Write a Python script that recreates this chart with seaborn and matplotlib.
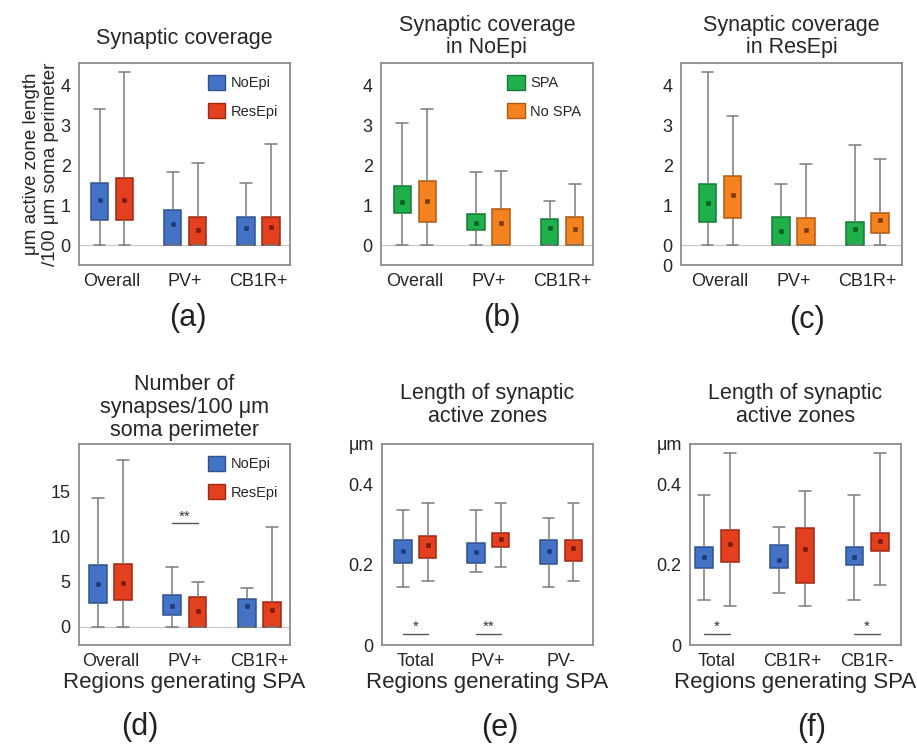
import pandas as pd
import matplotlib
matplotlib.use("Agg")
import matplotlib.pyplot as plt
from matplotlib.patches import Patch
import seaborn as sns

sns.set_style("white")
plt.rcParams['font.family'] = ['Liberation Sans', 'DejaVu Sans']

# each box: [min, Q1, mean, Q3, max]
cats_abc = ["Overall", "PV+", "CB1R+"]
cats_e = ["Total", "PV+", "PV-"]
cats_f = ["Total", "CB1R+", "CB1R-"]

a_noepi = [[0, 0.63, 1.12, 1.56, 3.40], [0, 0, 0.52, 0.875, 1.83], [0, 0, 0.42, 0.69, 1.54]]
a_resepi = [[0, 0.63, 1.12, 1.68, 4.33], [0, 0, 0.37, 0.69, 2.04], [0, 0, 0.46, 0.69, 2.52]]

b_spa = [[0, 0.79, 1.08, 1.475, 3.06], [0, 0.375, 0.54, 0.77, 1.82], [0, 0, 0.43, 0.65, 1.11]]
b_nospa = [[0, 0.58, 1.11, 1.61, 3.40], [0, 0, 0.54, 0.91, 1.84], [0, 0, 0.39, 0.70, 1.53]]

c_spa = [[0, 0.57, 1.04, 1.53, 4.33], [0, 0, 0.36, 0.69, 1.52], [0, 0, 0.39, 0.58, 2.51]]
c_nospa = [[0, 0.68, 1.25, 1.725, 3.23], [0, 0, 0.375, 0.67, 2.03], [0, 0.29, 0.625, 0.81, 2.16]]

d_noepi = [[0, 2.65, 4.75, 6.9, 14.26], [0, 1.36, 2.36, 3.58, 6.63], [0, 0, 2.29, 3.1, 4.31]]
d_resepi = [[0, 2.95, 4.83, 7.0, 18.5], [0, 0, 1.73, 3.28, 4.94], [0, 0, 1.92, 2.73, 11.13]]

e_noepi = [[0.145, 0.203, 0.235, 0.26, 0.337], [0.1825, 0.203, 0.2325, 0.254, 0.337],
           [0.145, 0.201, 0.234, 0.26, 0.317]]
e_resepi = [[0.158, 0.216, 0.249, 0.27, 0.353], [0.194, 0.244, 0.264, 0.279, 0.3525],
            [0.158, 0.21, 0.241, 0.26, 0.353]]

f_noepi = [[0.112, 0.192, 0.218, 0.245, 0.373], [0.13, 0.191, 0.2125, 0.249, 0.293],
           [0.112, 0.198, 0.22, 0.245, 0.373]]
f_resepi = [[0.097, 0.206, 0.252, 0.286, 0.477], [0.097, 0.155, 0.24, 0.292, 0.384],
            [0.149, 0.233, 0.258, 0.278, 0.477]]

# significance marks: (category index, y, stars)
sig_d = [(1, 11.5, "**")]
sig_e = [(0, 0.027, "*"), (1, 0.027, "**")]
sig_f = [(0, 0.027, "*"), (2, 0.027, "*")]

epi_colors = {"NoEpi": "#4472C4", "ResEpi": "#E2401E"}
epi_edges = {"NoEpi": "#2F528F", "ResEpi": "#A02810"}
epi_dark = {"NoEpi": "#1F3A7A", "ResEpi": "#7A1A08"}
spa_colors = {"SPA": "#1FAF4B", "No SPA": "#F58220"}
spa_edges = {"SPA": "#157A34", "No SPA": "#B05A10"}
spa_dark = {"SPA": "#0E5A25", "No SPA": "#7A3A08"}


def make_df(cats, groups, stats):
    rows, means = [], []
    for g, st in zip(groups, stats):
        for c, five in zip(cats, st):
            for v in five:
                rows.append((c, g, v))
            means.append((c, g, five[2]))
    cols = ["region", "group", "value"]
    return pd.DataFrame(rows, columns=cols), pd.DataFrame(means, columns=cols)


def panel(ax, cats, groups, stats, colors, edges, dark):
    df, dm = make_df(cats, groups, stats)
    sns.boxplot(data=df, x="region", y="value", hue="group", order=cats,
                hue_order=groups, palette=colors, saturation=1, width=0.68, gap=0.3,
                whis=(0, 100), linecolor="#7a7a7a", linewidth=1.1,
                medianprops={"linewidth": 0}, legend=False, ax=ax, zorder=2)
    # darker outline for each box
    to_hex = matplotlib.colors.to_hex
    for p in ax.patches:
        for g in groups:
            if to_hex(p.get_facecolor()) == to_hex(colors[g]):
                p.set_edgecolor(edges[g])
    # widen whisker caps a bit
    for ln in ax.lines:
        x, y = ln.get_xdata(), ln.get_ydata()
        if len(x) == 2 and y[0] == y[1] and 0 < abs(x[1] - x[0]) < 0.2:
            c = (x[0] + x[1]) / 2
            ln.set_xdata([c + (x[0] - c) * 1.35, c + (x[1] - c) * 1.35])
    sns.pointplot(data=dm, x="region", y="value", hue="group", order=cats,
                  hue_order=groups, palette=dark, dodge=0.34, markers="s",
                  linestyle="none", markersize=2.6, markeredgewidth=0.4,
                  errorbar=None, legend=False, ax=ax, zorder=4)
    ax.set_xlabel("")
    ax.set_ylabel("")
    for s in ax.spines.values():
        s.set_color("#8c8c8c")
        s.set_linewidth(1.3)
    ax.tick_params(length=0, labelsize=13, pad=6)


def add_legend(ax, groups, colors, edges):
    handles = [Patch(facecolor=colors[g], edgecolor=edges[g], label=g) for g in groups]
    ax.legend(handles=handles, loc="upper right", frameon=False, fontsize=10.5,
              handlelength=1.2, handleheight=1.2, handletextpad=0.4,
              labelspacing=0.9, borderaxespad=0.4)


def add_sig(ax, marks):
    for i, y, star in marks:
        ax.plot([i - 0.17, i + 0.17], [y, y], color="#555555", lw=1, zorder=3)
        ax.text(i, y, star, ha="center", va="bottom", fontsize=11, color="#333333")


fig = plt.figure(figsize=(9.17, 7.47), dpi=100)
W, H = 917, 747


def axes_px(left, top, right, bottom):
    return fig.add_axes([left / W, 1 - bottom / H, (right - left) / W, (bottom - top) / H])


ax_a = axes_px(79, 63, 290, 265)
ax_b = axes_px(381, 63, 593, 265)
ax_c = axes_px(681, 63, 902, 265)
ax_d = axes_px(79, 444, 290, 645)
ax_e = axes_px(382, 444, 593, 645)
ax_f = axes_px(690, 444, 901, 645)

# (a)
panel(ax_a, cats_abc, ["NoEpi", "ResEpi"], [a_noepi, a_resepi], epi_colors, epi_edges, epi_dark)
add_legend(ax_a, ["NoEpi", "ResEpi"], epi_colors, epi_edges)
ax_a.set_title("Synaptic coverage", fontsize=15.5, pad=14)
ax_a.set_ylabel("μm active zone length\n/100 μm soma perimeter", fontsize=13.5,
                linespacing=1.15)
ax_a.yaxis.set_label_coords(-0.095, 0.5)

# (b)
panel(ax_b, cats_abc, ["SPA", "No SPA"], [b_spa, b_nospa], spa_colors, spa_edges, spa_dark)
add_legend(ax_b, ["SPA", "No SPA"], spa_colors, spa_edges)
ax_b.set_title("Synaptic coverage\nin NoEpi", fontsize=15.5, pad=7, linespacing=1.1)

# (c)
panel(ax_c, cats_abc, ["SPA", "No SPA"], [c_spa, c_nospa], spa_colors, spa_edges, spa_dark)
ax_c.set_title("Synaptic coverage\nin ResEpi", fontsize=15.5, pad=7, linespacing=1.1)

for ax, xl in [(ax_a, (-0.45, 2.43)), (ax_b, (-0.46, 2.42)), (ax_c, (-0.53, 2.47))]:
    ax.set_ylim(-0.5, 4.55)
    ax.set_xlim(*xl)
    ax.axhline(0, color="#c8c8c8", lw=0.9, zorder=0)
ax_a.set_yticks([0, 1, 2, 3, 4])
ax_b.set_yticks([0, 1, 2, 3, 4])
ax_c.set_yticks([-0.5, 0, 1, 2, 3, 4], ["0", "0", "1", "2", "3", "4"])

# (d)
panel(ax_d, cats_abc, ["NoEpi", "ResEpi"], [d_noepi, d_resepi], epi_colors, epi_edges, epi_dark)
add_legend(ax_d, ["NoEpi", "ResEpi"], epi_colors, epi_edges)
add_sig(ax_d, sig_d)
ax_d.set_title("Number of\nsynapses/100 μm\nsoma perimeter", fontsize=15.5, pad=6, linespacing=1.1)
ax_d.set_ylim(-2, 20.3)
ax_d.set_xlim(-0.42, 2.41)
ax_d.set_yticks([0, 5, 10, 15])
ax_d.axhline(0, color="#c8c8c8", lw=0.9, zorder=0)

# (e)
panel(ax_e, cats_e, ["NoEpi", "ResEpi"], [e_noepi, e_resepi], epi_colors, epi_edges, epi_dark)
add_sig(ax_e, sig_e)
ax_e.set_title("Length of synaptic\nactive zones", fontsize=15.5, pad=16, linespacing=1.1)
ax_e.set_xlim(-0.46, 2.44)

# (f)
panel(ax_f, cats_f, ["NoEpi", "ResEpi"], [f_noepi, f_resepi], epi_colors, epi_edges, epi_dark)
add_sig(ax_f, sig_f)
ax_f.set_title("Length of synaptic\nactive zones", fontsize=15.5, pad=16, linespacing=1.1)
ax_f.set_xlim(-0.36, 2.45)

for ax in (ax_e, ax_f):
    ax.set_ylim(0, 0.5)
    ax.set_yticks([0, 0.2, 0.4, 0.5], ["0", "0.2", "0.4", "μm"])

for ax in (ax_d, ax_e, ax_f):
    ax.set_xlabel("Regions generating SPA", fontsize=16, labelpad=1)

# panel letters
for lbl, x, y in [("(a)", 188, 318), ("(b)", 502, 318), ("(c)", 807, 320),
                  ("(d)", 140, 727), ("(e)", 500, 728), ("(f)", 812, 728)]:
    fig.text(x / W, 1 - y / H, lbl, ha="center", va="center", fontsize=22, color="#222222")

fig.savefig("out.png", dpi=100, facecolor="white")
